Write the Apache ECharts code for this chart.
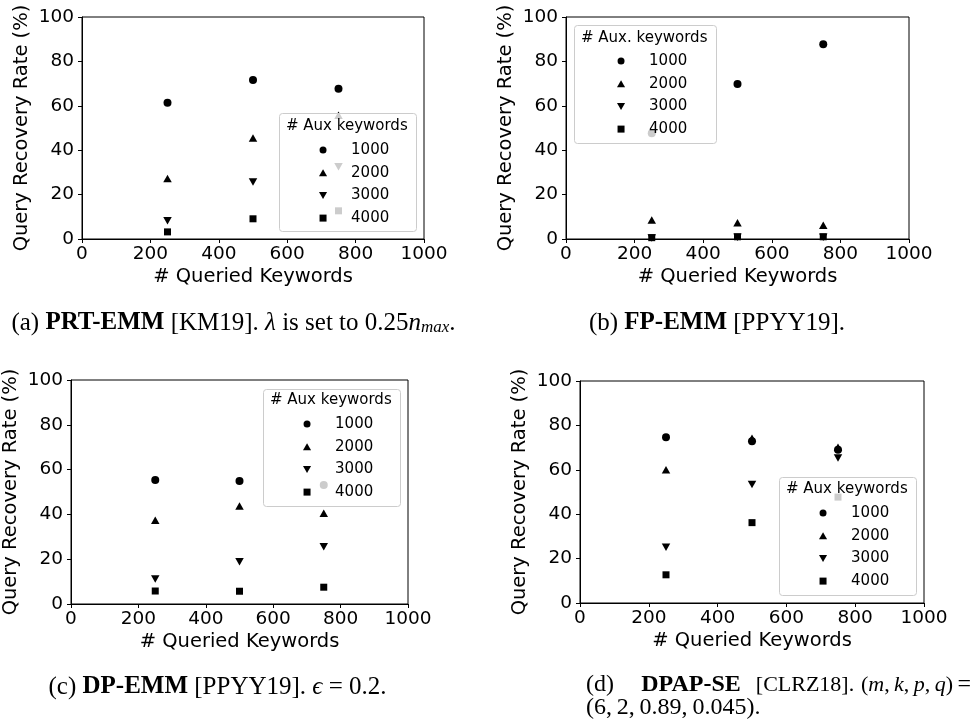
<!DOCTYPE html>
<html lang="en">
<head>
<meta charset="utf-8">
<title>Query recovery rate</title>
<script src="https://cdn.jsdelivr.net/npm/echarts@6/dist/echarts.min.js"></script>
<style>
  html, body { margin: 0; padding: 0; background: #fff; }
  #main { width: 972px; height: 728px; }
</style>
</head>
<body>
<div id="main"></div>
<script type="text/javascript">
// data
var queried = [250, 500, 750];
var auxNames = ['1000', '2000', '3000', '4000'];
var xTicks = [0, 200, 400, 600, 800, 1000];
var yTicks = [0, 20, 40, 60, 80, 100];

// (a) PRT-EMM
var prt1000 = [61.4, 71.6, 67.7];
var prt2000 = [27.2, 45.5, 55.7];
var prt3000 = [8.2, 25.7, 32.6];
var prt4000 = [3.2, 9.1, 12.7];
// (b) FP-EMM
var fp1000 = [47.6, 69.8, 87.7];
var fp2000 = [8.6, 7.3, 6.2];
var fp3000 = [0.5, 0.8, 0.8];
var fp4000 = [0.6, 1.0, 1.0];
// (c) DP-EMM
var dp1000 = [55.4, 54.9, 53.1];
var dp2000 = [37.4, 43.8, 40.5];
var dp3000 = [11.2, 18.9, 25.6];
var dp4000 = [5.8, 5.7, 7.5];
// (d) DPAP-SE
var dpap1000 = [74.7, 72.9, 69.0];
var dpap2000 = [60.0, 74.2, 70.2];
var dpap3000 = [25.1, 53.4, 65.3];
var dpap4000 = [12.7, 36.2, 47.7];

var panels = [
    [prt1000, prt2000, prt3000, prt4000],
    [fp1000, fp2000, fp3000, fp4000],
    [dp1000, dp2000, dp3000, dp4000],
    [dpap1000, dpap2000, dpap3000, dpap4000]
];

var FONT = 'DejaVu Sans';
var SERIF = 'Liberation Serif';
var symUp = 'path://M5,0L10,8.66L0,8.66Z';
var symDown = 'path://M0,0L10,0L5,8.66Z';
var symSquare = 'path://M0,0L10,0L10,10L0,10Z';
var symbols = ['circle', symUp, symDown, symSquare];
var symSizes = [8, [8.5, 7.5], [8.5, 7.5], 7];

// plot areas
var grids = [
    {left: 82, top: 17, width: 342, height: 222},
    {left: 566, top: 17, width: 343, height: 222},
    {left: 64, top: 380, width: 344, height: 224},
    {left: 580, top: 381, width: 344, height: 222}
];
// legend boxes: box left/top/width/height, title y, marker x, first row y
var legendBoxes = [
    {L: 279, T: 113, W: 137, H: 118, ty: 125.7, mx: 322, ry: 150, title: '# Aux keywords'},
    {L: 574, T: 25, W: 142, H: 118, ty: 38, mx: 620, ry: 61, title: '# Aux. keywords'},
    {L: 263, T: 389, W: 137, H: 117, ty: 400, mx: 306, ry: 424, title: '# Aux keywords'},
    {L: 779, T: 477, W: 137, H: 118, ty: 489.3, mx: 822, ry: 513, title: '# Aux keywords'}
];

var xAxes = [], yAxes = [], series = [], legends = [], graphics = [];

grids.forEach(function (g, i) {
    g.show = true;
    g.borderColor = '#000';
    g.borderWidth = 1;
    g.containLabel = false;

    xAxes.push({
        type: 'value', gridIndex: i,
        min: xTicks[0], max: xTicks[xTicks.length - 1], interval: xTicks[1] - xTicks[0],
        name: '# Queried Keywords', nameLocation: 'middle', nameGap: 28,
        nameTextStyle: {fontSize: 19.5, color: '#000', fontFamily: FONT},
        axisLine: {show: true, onZero: false, lineStyle: {color: '#000', width: 1}},
        axisTick: {show: true, length: 4, lineStyle: {color: '#000'}},
        axisLabel: {fontSize: 18.5, color: '#000', margin: 6, fontFamily: FONT,
            formatter: function (v) { return String(v); }},
        splitLine: {show: false}
    });
    yAxes.push({
        type: 'value', gridIndex: i,
        min: yTicks[0], max: yTicks[yTicks.length - 1], interval: yTicks[1] - yTicks[0],
        name: 'Query Recovery Rate (%)', nameLocation: 'middle', nameGap: 50,
        nameTextStyle: {fontSize: 19.5, color: '#000', fontFamily: FONT},
        axisLine: {show: true, onZero: false, lineStyle: {color: '#000', width: 1}},
        axisTick: {show: true, length: 4, lineStyle: {color: '#000'}},
        axisLabel: {fontSize: 18.5, color: '#000', margin: 8, fontFamily: FONT},
        splitLine: {show: false}
    });

    panels[i].forEach(function (vals, k) {
        series.push({
            type: 'scatter', name: auxNames[k],
            xAxisIndex: i, yAxisIndex: i,
            symbol: symbols[k], symbolSize: symSizes[k],
            itemStyle: {color: '#000', opacity: 1},
            emphasis: {disabled: true},
            data: queried.map(function (q, j) { return [q, vals[j]]; })
        });
    });

    var b = legendBoxes[i];
    // legend frame (semi transparent, like matplotlib) and title
    graphics.push({
        type: 'rect', z: 100,
        shape: {x: b.L + 0.5, y: b.T + 0.5, width: b.W, height: b.H, r: 3},
        style: {fill: 'rgba(255,255,255,0.8)', stroke: '#cccccc', lineWidth: 1}
    });
    graphics.push({
        type: 'text', z: 101,
        x: b.L + 7, y: b.ty,
        style: {text: b.title, fontSize: 15, fontFamily: FONT, fill: '#000', verticalAlign: 'middle'}
    });
    legends.push({
        orient: 'vertical', z: 110,
        left: b.mx - 3, top: b.ry - 7.5, padding: 0,
        itemWidth: 46, itemHeight: 7, itemGap: 7.7,
        symbolKeepAspect: true,
        selectedMode: false,
        textStyle: {fontSize: 15, lineHeight: 15, color: '#000', fontFamily: FONT},
        data: auxNames.map(function (n, k) {
            return {name: n, icon: symbols[k], itemStyle: {color: '#000', opacity: 1}};
        })
    });
});

// captions
var CAP = 25;
var capRich = {
    n: {fontFamily: SERIF, fontSize: CAP, fill: '#000'},
    b: {fontFamily: SERIF, fontSize: CAP, fontWeight: 'bold', fill: '#000'},
    i: {fontFamily: SERIF, fontSize: CAP, fontStyle: 'italic', fill: '#000'},
    s: {fontFamily: SERIF, fontSize: 17, fontStyle: 'italic', fill: '#000', padding: [10, 0, 0, 0]}
};
function caption(x, y, text, align, size) {
    var rich = capRich;
    if (size) {
        rich = {};
        Object.keys(capRich).forEach(function (k) {
            rich[k] = Object.assign({}, capRich[k], {fontSize: size});
        });
    }
    graphics.push({
        type: 'text', x: x, y: y,
        style: {text: text, rich: rich, fontFamily: SERIF, fontSize: size || CAP, fill: '#000',
            align: align || 'center', verticalAlign: 'middle'}
    });
}
caption(233.5, 323, '{n|(a) }{b|PRT-EMM}{n| [KM19]. }{i|λ}{n| is set to 0.25}{i|n}{s|max}{n|.}');
caption(717, 323, '{n|(b) }{b|FP-EMM}{n| [PPYY19].}');
caption(217.5, 687, '{n|(c) }{b|DP-EMM}{n| [PPYY19]. }{i|ϵ}{n| = 0.2.}');
caption(586, 685, '{n|(d)}', 'left', 24);
caption(691, 685, '{b|DPAP-SE}', 'center', 24);
caption(805, 685, '{n|[CLRZ18].}', 'center', 22);
caption(907, 685, '{n|(}{i|m}{n|,\u2009}{i|k}{n|,\u2009}{i|p}{n|,\u2009}{i|q}{n|)}', 'center', 22);
caption(971, 685, '{n|=}', 'right', 24);
caption(586, 708, '{n|(6,\u20092,\u20090.89,\u20090.045).}', 'left', 24);

var myChart = echarts.init(document.getElementById('main'));
myChart.setOption({
    animation: false,
    backgroundColor: '#fff',
    textStyle: {fontFamily: FONT},
    grid: grids,
    xAxis: xAxes,
    yAxis: yAxes,
    legend: legends,
    graphic: graphics,
    series: series
});
</script>
</body>
</html>
